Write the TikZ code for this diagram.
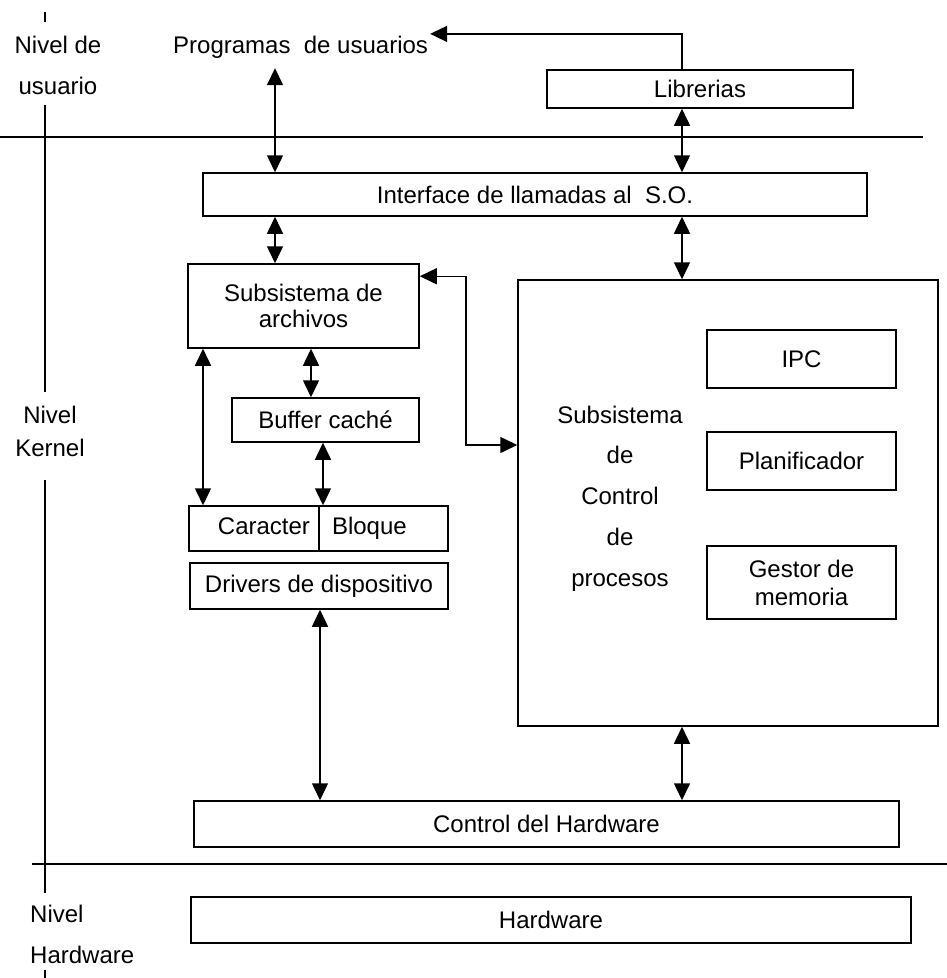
\documentclass[tikz,border=0pt]{standalone}
\usepackage{fontspec}
\setmainfont{Liberation Sans}
\usetikzlibrary{arrows.meta, positioning, calc}

\begin{document}
\begin{tikzpicture}[x=1pt, y=-1pt,
  box/.style={draw, line width=1.5pt, inner sep=0pt, font=\fontsize{24}{26}\selectfont, align=center},
  lbl/.style={inner sep=0pt, font=\fontsize{24}{26}\selectfont, align=center},
  dar/.style={{Triangle[length=17pt,width=16pt]}-{Triangle[length=17pt,width=16pt]}, line width=1.5pt},
  sar/.style={-{Triangle[length=17pt,width=16pt]}, line width=1.5pt}]
\useasboundingbox (0,0) rectangle (947,978);

% Level separators
\draw[line width=1.5pt] (0,137) -- (923,137);
\draw[line width=1.5pt] (32,864) -- (947,864);
\foreach \ya/\yb in {12/22, 105/392, 480/893, 970/978}
  \draw[line width=1.2pt] (45,\ya) -- (45,\yb);

% Level names
\node[lbl, font=\fontsize{24}{41}\selectfont] (nusr) at (58,65.5) {Nivel de\\usuario};
\node[lbl, font=\fontsize{24}{33}\selectfont] (nker) at (50,431.5) {Nivel\\Kernel};
\node[lbl, font=\fontsize{24}{41}\selectfont, align=left, anchor=west] (nhw) at (30,934.5) {Nivel\\Hardware};

% User level
\node[lbl, anchor=base west] (usr) at (173,53) {Programas\ \ de usuarios};
\node[box, minimum width=306pt, minimum height=38pt] (lib) at (700,89) {Librerias};

% Kernel level
\node[box, minimum width=664pt, minimum height=43pt] (ifc) at (535,194.5) {Interface de llamadas al\ \ S.O.};
\node[box, minimum width=231pt, minimum height=84pt] (fs) at (303.5,306) {Subsistema de\\archivos};
\node[box, minimum width=187pt, minimum height=44pt] (buf) at (325.5,420) {Buffer caché};
\node[box, minimum height=45pt, text width=112pt, inner xsep=9pt, align=right,
      text height=17pt, text depth=5pt] (car) at (254,528.5) {Caracter};
\node[box, minimum height=45pt, text width=103pt, inner xsep=13pt, align=left,
      text height=17pt, text depth=5pt] (blq) at (383.5,528.5) {Bloque};
\node[box, minimum width=258pt, minimum height=46pt] (drv) at (319,586) {Drivers de dispositivo};

% Process control subsystem
\node[box, minimum width=420pt, minimum height=446pt] (ctl) at (728,503) {};
\node[lbl, font=\fontsize{24}{40.75}\selectfont] (tctl) at (620,498.5) {Subsistema\\de\\Control\\de\\procesos};
\node[box, minimum width=189pt, minimum height=58pt] (ipc) at (801.5,359) {IPC};
\node[box, minimum width=189pt, minimum height=58pt] (pla) at (801.5,461) {Planificador};
\node[box, minimum width=189pt, minimum height=73pt, font=\fontsize{24}{28}\selectfont] (mem) at (801.5,582.5) {Gestor de\\memoria};

\node[box, minimum width=705pt, minimum height=46pt] (hw) at (546.5,824) {Control del Hardware};

% Hardware level
\node[box, minimum width=720pt, minimum height=46pt] (hwb) at (551,920) {Hardware};

% Connectors
\coordinate (ax) at (275,0);
\coordinate (bx) at (682,0);
\coordinate (jx) at (466,445);
\draw[sar] (lib.north -| bx) |- ([xshift=2pt,yshift=1.5pt]usr.north east);
\draw[dar] ($(usr.south -| ax)+(0,10)$) -- (ifc.north -| ax);
\draw[dar] (lib.south -| bx) -- (ifc.north -| bx);
\draw[dar] (ifc.south -| ax) -- (fs.north -| ax);
\draw[dar] (ifc.south -| bx) -- (ctl.north -| bx);
\draw[dar] ($(fs.north east)+(0,13)$) -| (jx) -- (jx -| ctl.west);
\foreach \x/\a/\b in {311/fs/buf, 203/fs/car, 323/buf/blq, 320/drv/hw}
  \draw[dar] (\a.south -| \x,0) -- (\b.north -| \x,0);
\draw[dar] (ctl.south -| bx) -- (hw.north -| bx);

\end{tikzpicture}
\end{document}
